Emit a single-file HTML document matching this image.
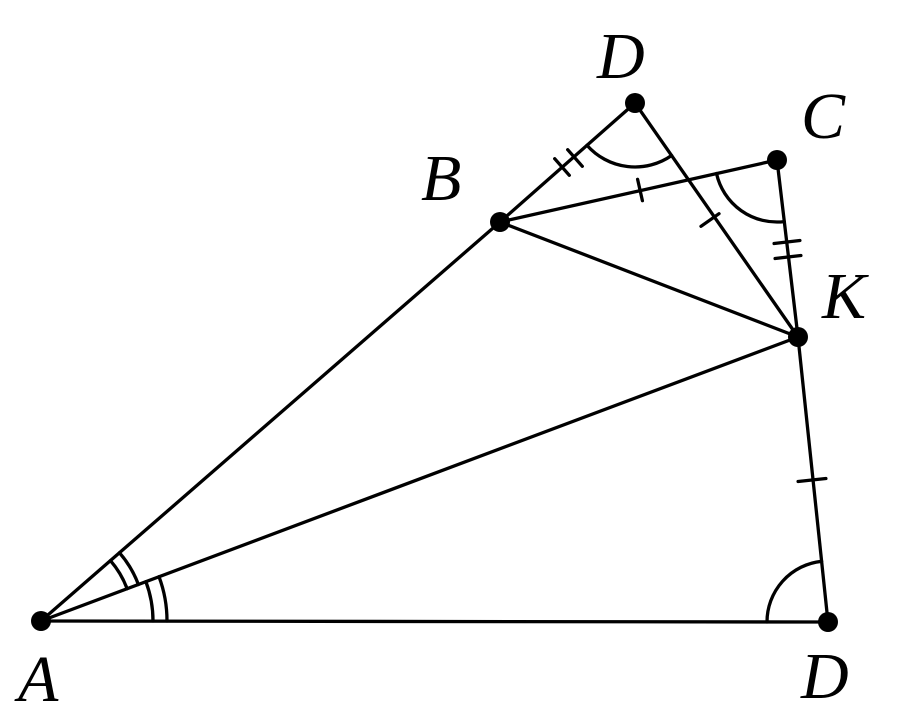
<!DOCTYPE html>
<html><head><meta charset="utf-8"><style>
html,body{margin:0;padding:0;background:#fff;width:910px;height:717px;overflow:hidden}
text{font-family:"Liberation Serif",serif;font-style:italic;font-size:66px;fill:#000}
</style></head><body>
<svg width="910" height="717" viewBox="0 0 910 717" xmlns="http://www.w3.org/2000/svg">
<g stroke="#000" stroke-width="3.3" fill="none" stroke-linecap="round">
<line x1="41" y1="621" x2="828" y2="622"/>
<line x1="41" y1="621" x2="500" y2="222"/>
<line x1="41" y1="621" x2="798" y2="337"/>
<line x1="500" y1="222" x2="635" y2="103"/>
<line x1="635" y1="103" x2="798" y2="337"/>
<line x1="500" y1="222" x2="777" y2="160"/>
<line x1="500" y1="222" x2="798" y2="337"/>
<line x1="777" y1="160" x2="798" y2="337"/>
<line x1="798" y1="337" x2="828" y2="622"/>
<path d="M153 621 A112 112 0 0 0 145.9 581.7"/>
<path d="M167 621 A126 126 0 0 0 159 576.7"/>
<path d="M127.1 588.7 A92 92 0 0 0 110.4 560.6"/>
<path d="M138.4 584.5 A104 104 0 0 0 119.5 552.8"/>
<path d="M587 145.3 A64 64 0 0 0 671.6 155.5"/>
<path d="M716.5 173.5 A62 62 0 0 0 784.3 221.6"/>
<path d="M767 622 A61 61 0 0 1 821.6 561.3"/>
<line x1="554.7" y1="158.7" x2="569.3" y2="175.3"/>
<line x1="567.7" y1="149.7" x2="582.3" y2="166.3"/>
<line x1="637.6" y1="179.3" x2="642.4" y2="200.7"/>
<line x1="701" y1="226.3" x2="719" y2="213.7"/>
<line x1="774.1" y1="243.5" x2="799.9" y2="240.5"/>
<line x1="775.1" y1="258.5" x2="800.9" y2="255.5"/>
<line x1="798.1" y1="481.5" x2="825.9" y2="478.5"/>
</g>
<g fill="#000">
<circle cx="41" cy="621" r="10"/>
<circle cx="828" cy="622" r="10"/>
<circle cx="798" cy="337" r="10"/>
<circle cx="777" cy="160" r="10"/>
<circle cx="635" cy="103" r="10"/>
<circle cx="500" cy="222" r="10"/>
</g>
<text x="597" y="78">D</text>
<text x="801" y="138">C</text>
<text x="421" y="200">B</text>
<text x="822" y="318">K</text>
<text x="18" y="701">A</text>
<text x="801" y="698">D</text>
</svg>
</body></html>
